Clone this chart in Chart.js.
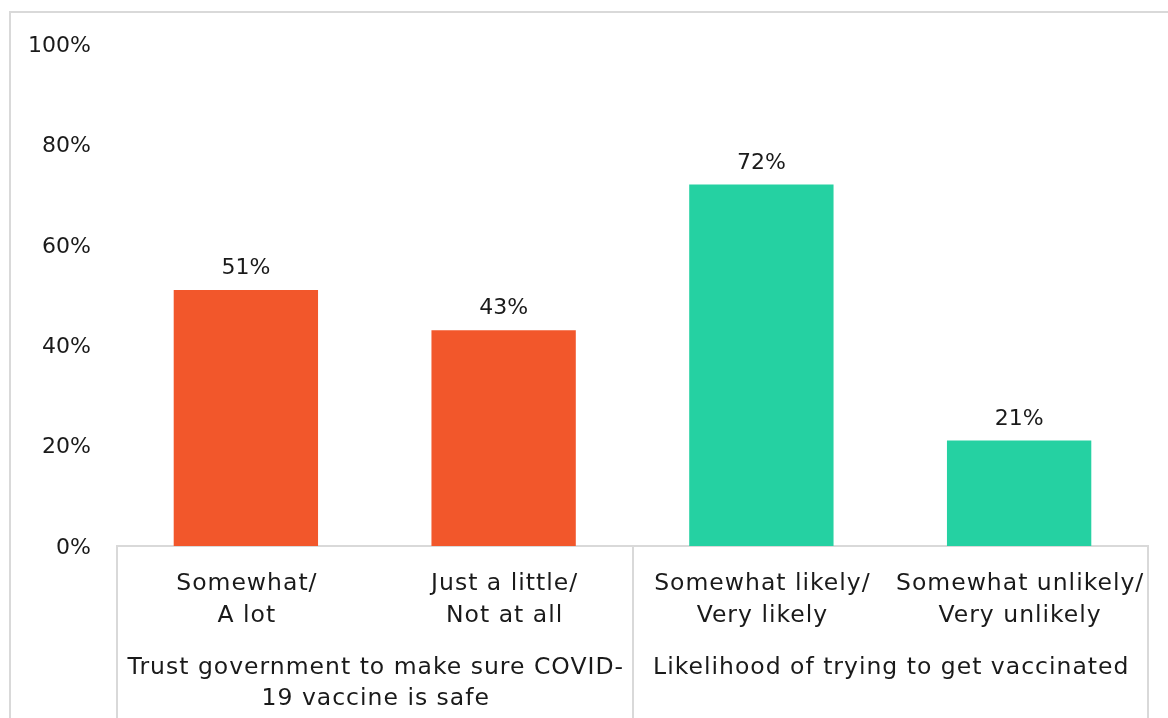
<!DOCTYPE html>
<html>
<head>
<meta charset="utf-8">
<script src="https://cdn.jsdelivr.net/npm/chart.js@4"></script>
<style>
    body { margin: 0; background: #fff; }
    .chart-box { width: 1168px; height: 718px; position: relative; }
</style>
</head>
<body>
<div class="chart-box"><canvas id="barChart"></canvas></div>
<script>
// dados
const categories = [['Somewhat/', 'A lot'], ['Just a little/', 'Not at all'], ['Somewhat likely/', 'Very likely'], ['Somewhat unlikely/', 'Very unlikely']];
const values = [51, 43, 72, 21];
const barColors = ['#F2572B', '#F2572B', '#25D1A2', '#25D1A2'];
const groups = [
    { label: ['Trust government to make sure COVID-', '19 vaccine is safe'], from: 0, to: 1 },
    { label: ['Likelihood of trying to get vaccinated'], from: 2, to: 3 }
];
const yTicks = [0, 20, 40, 60, 80, 100];

const FONT = "'DejaVu Sans', sans-serif";
const GRAY = '#d9d9d9';
const INK = '#1a1a1a';

// Rótulos de valor acima das barras
const valueLabels = {
    id: 'valueLabels',
    afterDatasetsDraw(chart) {
        const ctx = chart.ctx;
        const meta = chart.getDatasetMeta(0);
        ctx.save();
        ctx.font = '22px ' + FONT;
        ctx.fillStyle = INK;
        ctx.textAlign = 'center';
        ctx.textBaseline = 'alphabetic';
        meta.data.forEach((bar, i) => {
            ctx.fillText(values[i] + '%', bar.x, bar.y - 16);
        });
        ctx.restore();
    }
};

// Eixo multinível: categorias, grupos, separadores e borda externa
const groupAxis = {
    id: 'groupAxis',
    afterDraw(chart) {
        const ctx = chart.ctx;
        const x = chart.scales.x;
        const area = chart.chartArea;
        const h = chart.height;
        const step = (area.right - area.left) / categories.length;
        ctx.save();
        ctx.strokeStyle = GRAY;
        ctx.lineWidth = 2;
        // borda externa (só topo e esquerda aparecem)
        ctx.beginPath();
        ctx.moveTo(10, h);
        ctx.lineTo(10, 12);
        ctx.lineTo(chart.width, 12);
        ctx.stroke();
        // separadores de grupo
        const seps = [area.left];
        groups.forEach(g => seps.push(area.left + step * (g.to + 1)));
        ctx.beginPath();
        seps.forEach(sx => {
            ctx.moveTo(Math.round(sx), area.bottom);
            ctx.lineTo(Math.round(sx), h);
        });
        ctx.stroke();

        ctx.font = '23.5px ' + FONT;
        ctx.letterSpacing = '1px';
        ctx.fillStyle = INK;
        ctx.textAlign = 'center';
        ctx.textBaseline = 'middle';
        // primeiro nível
        categories.forEach((lines, i) => {
            const cx = x.getPixelForValue(i) + 1;
            lines.forEach((line, j) => {
                ctx.fillText(line, cx, area.bottom + 38 + j * 32);
            });
        });
        // rótulos de grupo
        groups.forEach(g => {
            const cx = (x.getPixelForValue(g.from) + x.getPixelForValue(g.to)) / 2 + 1;
            g.label.forEach((line, j) => {
                ctx.fillText(line, cx, area.bottom + 122 + j * 31);
            });
        });
        ctx.restore();
    }
};

new Chart(document.getElementById('barChart'), {
    type: 'bar',
    data: {
        labels: categories,
        datasets: [{
            data: values,
            backgroundColor: barColors,
            borderWidth: 0,
            barPercentage: 0.56,
            categoryPercentage: 1
        }]
    },
    options: {
        responsive: true,
        maintainAspectRatio: false,
        animation: false,
        layout: { padding: { top: 44, right: 20, left: 0, bottom: 0 } },
        plugins: {
            legend: { display: false },
            tooltip: { enabled: false }
        },
        scales: {
            y: {
                min: 0,
                max: 100,
                afterBuildTicks: axis => { axis.ticks = yTicks.map(v => ({ value: v })); },
                afterFit: axis => { axis.width = 117; },
                grid: { display: false, drawTicks: false },
                border: { display: false },
                ticks: {
                    padding: 26,
                    labelOffset: 2,
                    color: INK,
                    font: { family: FONT, size: 22 },
                    callback: v => v + '%'
                }
            },
            x: {
                afterFit: axis => { axis.height = 718 - 546; },
                grid: { display: false, drawTicks: false },
                border: { display: true, color: GRAY, width: 2 },
                ticks: { display: false }
            }
        }
    },
    plugins: [valueLabels, groupAxis]
});
</script>
</body>
</html>
